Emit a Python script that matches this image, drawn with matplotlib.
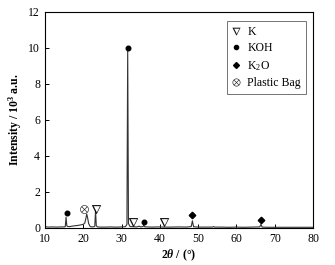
import matplotlib
matplotlib.use("Agg")
import matplotlib.pyplot as plt
from matplotlib.lines import Line2D

plt.rcParams['font.family'] = ['Liberation Serif', 'DejaVu Serif']
plt.rcParams['mathtext.fontset'] = 'custom'
plt.rcParams['mathtext.rm'] = 'Liberation Serif'
plt.rcParams['mathtext.it'] = 'Liberation Serif:italic:bold'
plt.rcParams['mathtext.bf'] = 'Liberation Serif:bold'

# XRD pattern (2theta in degrees, intensity in 10^3 a.u.)
two_theta = [10, 11, 12, 13, 14, 15.0, 15.3, 15.5, 15.7, 16.0, 16.5, 17, 18, 18.5, 19,
             19.5, 20.0, 20.4, 20.7, 20.9, 21.1, 21.4, 21.8, 22.3, 22.8, 23.0, 23.2,
             23.4, 23.7, 24.5, 26, 27, 28, 29, 30, 31.0, 31.4, 31.6, 31.8, 32.2, 33,
             34, 34.6, 35, 35.6, 35.8, 36.0, 36.5, 38, 39.5, 41, 43, 45, 47, 48.2,
             48.5, 48.8, 50, 52, 53.7, 54.0, 54.3, 56, 58, 60, 62, 64, 66.1, 66.4,
             66.7, 68, 70, 72, 74, 76, 78, 80]
intensity = [0.07, 0.05, 0.06, 0.05, 0.06, 0.06, 0.08, 0.6, 0.12, 0.08, 0.08, 0.1, 0.13,
             0.14, 0.16, 0.18, 0.2, 0.28, 0.55, 0.78, 0.6, 0.25, 0.08, 0.06, 0.07,
             0.1, 0.95, 0.12, 0.06, 0.05, 0.05, 0.06, 0.05, 0.05, 0.06, 0.07, 0.2,
             9.95, 0.25, 0.08, 0.07, 0.06, 0.1, 0.06, 0.08, 0.16, 0.07, 0.06, 0.05,
             0.06, 0.05, 0.05, 0.06, 0.05, 0.08, 0.4, 0.07, 0.05, 0.05, 0.05, 0.08,
             0.05, 0.05, 0.04, 0.05, 0.04, 0.05, 0.06, 0.2, 0.05, 0.04, 0.04, 0.04,
             0.04, 0.04, 0.04, 0.04]

# peak labels
k_x = [23.2, 33.0, 41.2]
k_y = [1.05, 0.32, 0.35]
koh_x = [15.7, 31.6, 35.8]
koh_y = [0.85, 10.0, 0.35]
k2o_x = [48.5, 66.4]
k2o_y = [0.72, 0.42]
bag_x = [20.2]
bag_y = [1.05]

fig = plt.figure(figsize=(3.35, 2.65), dpi=100)
ax = fig.add_axes([45 / 335, 1 - 228 / 265, 268 / 335, 216 / 265])

ax.plot(two_theta, intensity, color='0.2', lw=0.8)
ax.plot(k_x, k_y, ls='none', marker=r'$\nabla$', ms=6.5, color='black', mew=0.1)
ax.plot(koh_x, koh_y, ls='none', marker='o', ms=3.3, color='black')
ax.plot(k2o_x, k2o_y, ls='none', marker='D', ms=3.3, color='black')
ax.plot(bag_x, bag_y, ls='none', marker=r'$\otimes$', ms=6, color='black', mew=0.1)

ax.set_xlim(10, 80)
ax.set_ylim(0, 12)
ax.set_xticks(range(10, 81, 10))
ax.set_yticks(range(0, 13, 2))
ax.tick_params(direction='in', length=3, labelsize=8.5, width=0.7)
for s in ax.spines.values():
    s.set_linewidth(0.8)

ax.set_xlabel(r'2$\theta$ / (°)', fontsize=8.5, fontweight='bold', labelpad=2)
ax.set_ylabel(r'Intensity / 10$^\mathbf{3}$ a.u.', fontsize=8.5, fontweight='bold', labelpad=3)

handles = [
    Line2D([], [], ls='none', marker=r'$\nabla$', ms=5.5, color='black', mew=0.1),
    Line2D([], [], ls='none', marker='o', ms=3, color='black'),
    Line2D([], [], ls='none', marker='D', ms=3, color='black'),
    Line2D([], [], ls='none', marker=r'$\otimes$', ms=5.5, color='black', mew=0.1),
]
labels = ['K', 'KOH', 'K$_2$O', 'Plastic Bag']
leg = ax.legend(handles, labels, loc='upper right', bbox_to_anchor=(0.973, 0.958),
                borderaxespad=0, fontsize=8.5, fancybox=False, edgecolor='0.45',
                handlelength=0.8, handletextpad=0.55, borderpad=0.4,
                labelspacing=0.38, framealpha=1)
leg.get_frame().set_linewidth(0.7)

fig.savefig('out.png', dpi=100)
